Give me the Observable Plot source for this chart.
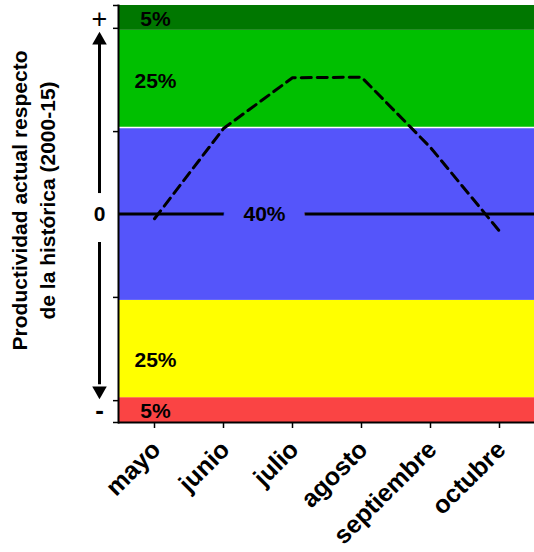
<!DOCTYPE html>
<html><head><meta charset="utf-8">
<script src="https://cdn.jsdelivr.net/npm/d3@7"></script>
<script src="https://cdn.jsdelivr.net/npm/@observablehq/plot@0.6"></script>
<style>html,body{margin:0;padding:0;background:#fff}</style>
</head><body><div id="chart"></div>
<script>
// ---- data ----
const months = ["mayo", "junio", "julio", "agosto", "septiembre", "octubre"];
const productividad = [-0.048, 0.861, 1.372, 1.378, 0.67, -0.173];
const bandLimits = [-2.1, -1.85, -0.87, 0.87, 1.85, 2.1];          // bottom → top
const bandShares = ["5%", "25%", "40%", "25%", "5%"];
const bandColors = ["#fa4444", "#ffff00", "#5555fa", "#00bf00", "#007700"];
const shareLabelY = [-1.984, -1.47, 0, 1.337, 1.964];
const yTicks = [-2.1, -1.88, -0.84, 0.83, 1.87, 2.1];
const sideLabels = ["+", "0", "-"];
const sideLabelY = [1.96, 0, -1.98];
const arrowShafts = [{y1: 0.206, y2: 1.72}, {y1: -0.287, y2: -1.72}];
const arrowHeads = [{y: 1.75, angle: 0}, {y: -1.78, angle: 180}];
const yTitle = "Productividad actual respecto\nde la histórica (2000-15)";

// ---- layout / style ----
const W = 534, H = 552, mL = 118, mR = 0, mT = 5, mB = 130;
const font = "Liberation Sans, Arial, Helvetica, sans-serif";
const sideDx = -19;
const frameCenterToSide = -((W - mR - mL) / 2) + sideDx;

const bands = bandShares.map((s, i) => ({y1: bandLimits[i], y2: bandLimits[i + 1], fill: bandColors[i], label: s, ly: shareLabelY[i]}));
const sideMarks = sideLabels.map((t, i) => ({t, y: sideLabelY[i]}));
const smallLabels = bands.filter(b => b.label !== "40%");
const centerLabels = bands.filter(b => b.label === "40%");

const chart = Plot.plot({
  width: W, height: H,
  marginLeft: mL, marginRight: mR, marginTop: mT, marginBottom: mB,
  style: {fontFamily: font, background: "#fff", overflow: "visible"},
  x: {type: "point", domain: months, padding: 0.5, axis: null, label: null},
  y: {domain: [-2.1, 2.1], axis: null, label: null},
  color: {type: "identity"},
  marks: [
    Plot.rect(bands, {y1: "y1", y2: "y2", fill: "fill"}),
    Plot.ruleY([0.87], {stroke: "white", strokeWidth: 1.5}),
    Plot.ruleY([0], {stroke: "black", strokeWidth: 3}),
    Plot.text(smallLabels, {y: "ly", text: "label", frameAnchor: "left", dx: 37, textAnchor: "middle",
      fontSize: 21, fontWeight: "bold", fill: "black"}),
    Plot.text(centerLabels, {y: "ly", text: "label", frameAnchor: "left", dx: 146, textAnchor: "middle",
      fontSize: 21, fontWeight: "bold", fill: "black", stroke: "#5555fa", strokeWidth: 40, paintOrder: "stroke", strokeLinejoin: "round"}),
    Plot.lineY(productividad, {x: months, y: d => d, stroke: "black", strokeWidth: 3, strokeDasharray: "10,6"}),
    Plot.axisY({ticks: yTicks, tickSize: 5, tickFormat: () => "", strokeWidth: 1.5, label: null}),
    Plot.axisX({tickSize: 6, tickFormat: () => "", strokeWidth: 1.5, label: null}),
    Plot.frame({anchor: "left", strokeWidth: 2}),
    Plot.ruleY([-2.1], {stroke: "black", strokeWidth: 2}),
    Plot.text(months, {x: d => d, frameAnchor: "bottom", rotate: -45, textAnchor: "end", lineAnchor: "middle",
      dx: 2, dy: 23, fontSize: 25, fontWeight: "bold", fill: "black"}),
    Plot.text(sideMarks.filter(d => d.t === "0"), {y: "y", text: "t", frameAnchor: "left", dx: sideDx, textAnchor: "middle",
      fontSize: 21, fontWeight: "bold"}),
    Plot.text(sideMarks.filter(d => d.t === "+"), {y: "y", text: "t", frameAnchor: "left", dx: sideDx, textAnchor: "middle",
      fontSize: 27, fontWeight: "normal"}),
    Plot.text(sideMarks.filter(d => d.t === "-"), {y: "y", text: "t", frameAnchor: "left", dx: sideDx, textAnchor: "middle",
      fontSize: 26, fontWeight: "bold"}),
    Plot.ruleX(arrowShafts, {x: null, y1: "y1", y2: "y2", dx: frameCenterToSide, stroke: "black", strokeWidth: 3}),
    Plot.dot(arrowHeads, {y: "y", rotate: "angle", symbol: "triangle", r: 5.4, fill: "black", stroke: "none", frameAnchor: "left", dx: sideDx}),
    Plot.text([yTitle], {text: d => d, frameAnchor: "left", dx: -86, dy: -13.5, rotate: -90, textAnchor: "middle",
      lineAnchor: "middle", lineHeight: 1.33, fontSize: 21, fontWeight: "bold", fill: "black"})
  ]
});
document.getElementById("chart").appendChild(chart);
</script>
</body></html>
